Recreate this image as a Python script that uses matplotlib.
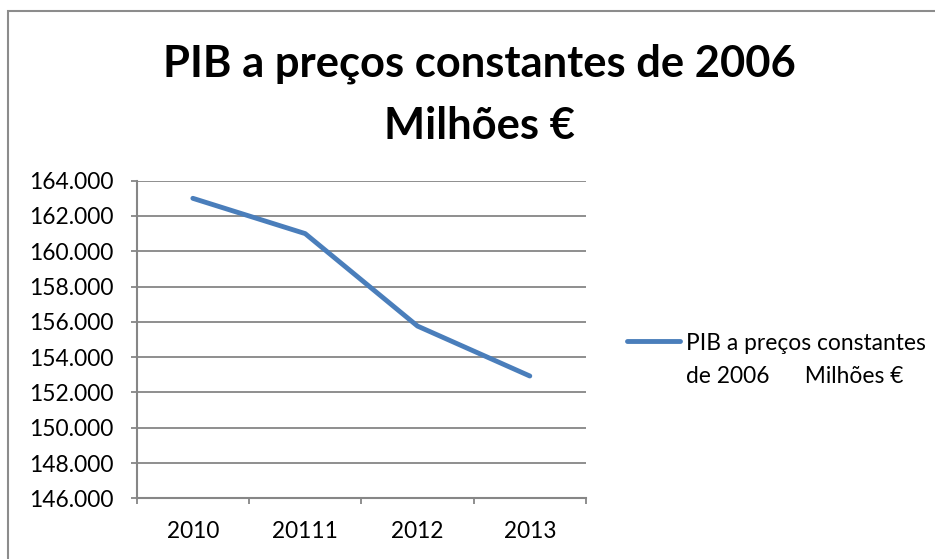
import matplotlib
matplotlib.use('Agg')
import matplotlib.pyplot as plt
from matplotlib.patches import Rectangle
from matplotlib.lines import Line2D
from matplotlib.ticker import FixedLocator, FuncFormatter

# dados (milhões de euros, em milhares)
anos = ['2010', '20111', '2012', '2013']
pib = [163.0, 161.0, 155.76, 152.93]
serie = 'PIB a preços constantes\nde 2006      Milhões €'
titulo = 'PIB a preços constantes de 2006\nMilhões €'

plt.rcParams['font.family'] = ['Lato', 'DejaVu Sans']

W, H = 935, 559
fig = plt.figure(figsize=(W / 100, H / 100), dpi=100)
ax = fig.add_axes([0.1462, 0.1086, 0.4805, 0.5682])

cinza = '#868686'
azul = '#4A7EBB'
x = list(range(len(anos)))
ax.plot(x, pib, color=azul, lw=3.5, solid_capstyle='round', label=serie)

ax.set_xlim(-0.5, len(anos) - 0.5)
ax.set_ylim(146, 164)
ax.yaxis.set_major_locator(FixedLocator([146 + 2 * k for k in range(10)]))
ax.yaxis.set_major_formatter(FuncFormatter(lambda v, p: f'{v:.3f}'))
ax.grid(axis='y', color=cinza, lw=1.3)
ax.set_axisbelow(True)

# ticks nas fronteiras das categorias, estilo Excel
ax.xaxis.set_major_locator(FixedLocator([k - 0.5 for k in range(len(anos) + 1)]))
ax.xaxis.set_major_formatter(FuncFormatter(lambda v, p: ''))
ax.xaxis.set_minor_locator(FixedLocator(x))
ax.set_xticklabels(anos, minor=True)
ax.tick_params(axis='x', which='major', length=4.5, color=cinza, width=1.3, direction='out')
ax.tick_params(axis='x', which='minor', length=0, pad=16, labelsize=16.3)
ax.tick_params(axis='y', length=4.5, color=cinza, width=1.3, pad=12, labelsize=16.4)

for s in ['top', 'right']:
    ax.spines[s].set_visible(False)
for s in ['left', 'bottom']:
    ax.spines[s].set_color(cinza)
    ax.spines[s].set_linewidth(1.5)

fig.text(0.513, 0.83, titulo, ha='center', va='center', fontsize=31.3,
         fontweight='bold', linespacing=1.66)

# legenda à moda do Excel: traço alinhado com a primeira linha
fig.add_artist(Line2D([627 / W, 680 / W], [1 - 341 / H] * 2, transform=fig.transFigure,
                      color=azul, lw=3.5, solid_capstyle='round'))
fig.text(686 / W, 1 - 360 / H, serie, ha='left', va='center', fontsize=16.4,
         linespacing=1.76, transform=fig.transFigure)

# borda da área do gráfico (cortada à direita e em baixo)
fig.add_artist(Rectangle((8 / W, -0.1), 1.2, 1.1 - 11 / H, transform=fig.transFigure,
                         fill=False, edgecolor='#8c8c8c', lw=1.5))

fig.savefig('out.png', dpi=100)
